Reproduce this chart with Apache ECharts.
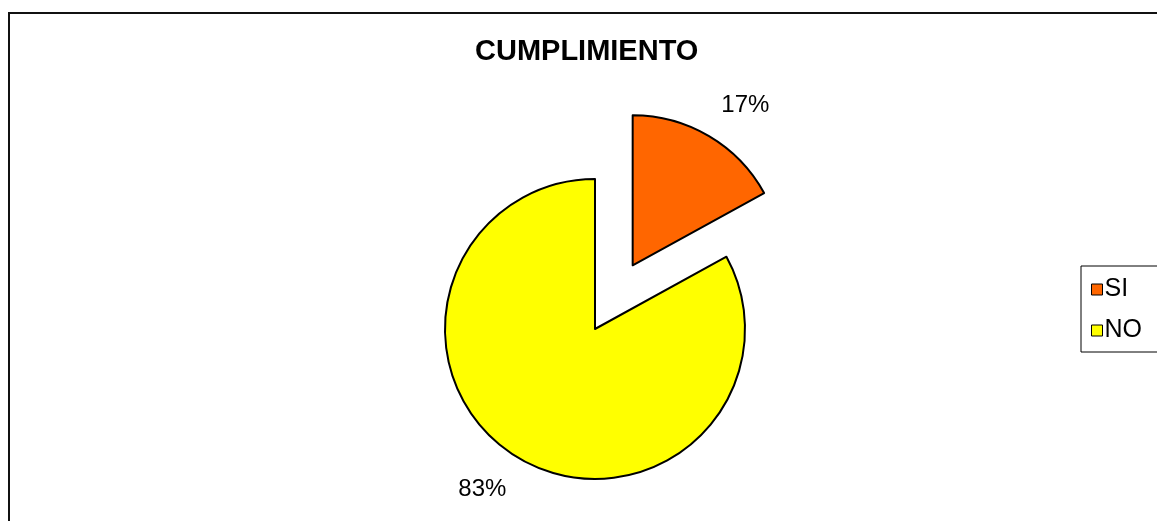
<!DOCTYPE html>
<html>
<head>
<meta charset="utf-8">
<title>CUMPLIMIENTO</title>
<script src="https://cdn.jsdelivr.net/npm/echarts@6/dist/echarts.min.js"></script>
<style>
  html, body { margin: 0; padding: 0; background: #fff; }
  #chart { width: 1157px; height: 521px; }
</style>
</head>
<body>
<div id="chart"></div>
<script>
// data
var categories = ['SI', 'NO']
var values = [17, 83]
var colors = ['#ff6600', '#ffff00']

var chart = echarts.init(document.getElementById('chart'))

var pieData = categories.map(function (name, i) {
  return {
    name: name,
    value: values[i],
    selected: i === 0,
    itemStyle: { color: colors[i] }
  }
})

chart.setOption({
  animation: false,
  textStyle: { fontFamily: 'Liberation Sans, Arial, sans-serif' },
  title: {
    text: 'CUMPLIMIENTO',
    left: 475,
    top: 37,
    padding: 0,
    textStyle: {
      color: '#000',
      fontSize: 29,
      fontWeight: 'bold',
      fontFamily: 'Liberation Sans, Arial, sans-serif'
    }
  },
  legend: {
    orient: 'vertical',
    left: 1081,
    top: 266,
    padding: [11, 30, 9, 10],
    itemGap: 16,
    itemWidth: 11,
    itemHeight: 11,
    icon: 'rect',
    borderColor: '#000',
    borderWidth: 1,
    itemStyle: { borderColor: '#000', borderWidth: 1 },
    textStyle: { color: '#000', fontSize: 25, padding: [0, 0, 0, -3] },
    data: categories
  },
  graphic: [{
    type: 'rect',
    silent: true,
    shape: { x: 9, y: 13, width: 1300, height: 700 },
    style: { fill: 'none', stroke: '#111', lineWidth: 2 }
  }],
  series: [{
    type: 'pie',
    center: [595, 329],
    radius: 150,
    startAngle: 90,
    clockwise: true,
    selectedMode: 'single',
    selectedOffset: 74,
    avoidLabelOverlap: false,
    emphasis: { scale: false },
    itemStyle: { borderColor: '#000', borderWidth: 2 },
    label: {
      show: true,
      position: 'outside',
      formatter: '{d}%',
      color: '#000',
      fontSize: 24,
      distanceToLabelLine: -6
    },
    labelLine: { show: false, length: 36, length2: 0 },
    data: pieData
  }]
})
</script>
</body>
</html>
